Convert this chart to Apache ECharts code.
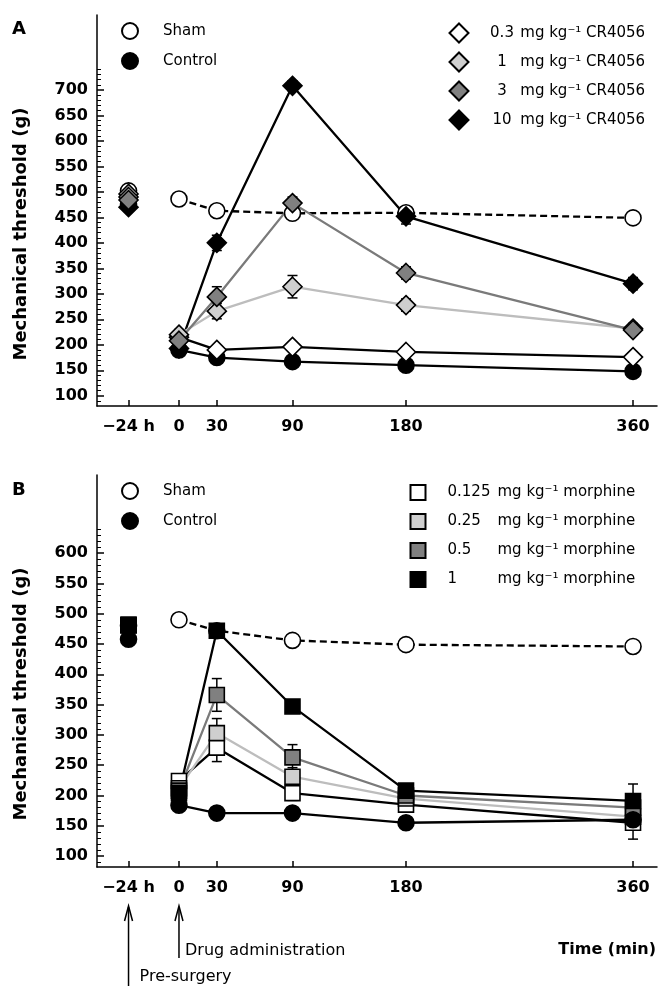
<!DOCTYPE html>
<html><head><meta charset="utf-8">
<script src="https://cdn.jsdelivr.net/npm/echarts@6/dist/echarts.min.js"></script>
<style>html,body{margin:0;padding:0;background:#fff}#c{width:670px;height:998px}</style>
</head><body><div id="c"></div>
<script>
const FONT = '"DejaVu Sans", sans-serif';

// time points (min); the pre-surgery "-24 h" reading is plotted at x = -40
const times = [-40, 0, 30, 90, 180, 360];
const xTickValues = [-40, 0, 30, 90, 180, 360];
const xTickLabels = ['\u221224 h', '0', '30', '90', '180', '360'];
const yTicksA = [100, 150, 200, 250, 300, 350, 400, 450, 500, 550, 600, 650, 700];
const yTicksB = [100, 150, 200, 250, 300, 350, 400, 450, 500, 550, 600];

// Panel A (CR4056)   [-24h, 0, 30, 90, 180, 360]
const aSham    = [502, 486, 463, 458, 459, 449];
const aControl = [476, 190, 175, 167, 160, 148];
const aCR03    = [496, 215, 190, 196, 186, 176];
const aCR1     = [490, 220, 266, 314, 278, 232];
const aCR3     = [484, 208, 294, 478, 341, 229];
const aCR10    = [470, 193, 400, 708, 452, 320];
const aShamSem    = [8, 8, 8, 10, 10, 8];
const aControlSem = [8, 8, 6, 6, 6, 6];
const aCR03Sem    = [8, 8, 8, 8, 8, 8];
const aCR1Sem     = [8, 10, 15, 22, 12, 10];
const aCR3Sem     = [8, 12, 20, 12, 12, 10];
const aCR10Sem    = [8, 10, 15, 10, 15, 12];

// Panel B (morphine)
const bSham     = [480, 490, 472, 456, 449, 446];
const bControl  = [458, 184, 171, 171, 155, 160];
const bMor0125  = [481, 224, 279, 204, 185, 155];
const bMor025   = [481, 212, 303, 231, 195, 165];
const bMor05    = [481, 208, 366, 263, 200, 180];
const bMor1     = [482, 204, 472, 347, 208, 191];
const bShamSem    = [8, 8, 8, 8, 8, 8];
const bControlSem = [6, 6, 6, 6, 6, 6];
const bMor0125Sem = [8, 10, 23, 12, 10, 27];
const bMor025Sem  = [8, 10, 24, 15, 10, 15];
const bMor05Sem   = [8, 10, 27, 21, 10, 15];
const bMor1Sem    = [8, 10, 10, 10, 10, 28];

const legendNamesA = {'CR 0.3': '0.3', 'CR 1': '1', 'CR 3': '3', 'CR 10': '10'};
const legendNamesB = {'Mor 0.125': '0.125', 'Mor 0.25': '0.25', 'Mor 0.5': '0.5', 'Mor 1': '1'};

function minorTicks(lo, hi) {
  const out = [];
  for (let v = lo; v <= hi; v += 10) if (v % 50 !== 0) out.push(v);
  return out;
}

function lineData(vals) {
  const d = [[times[0], vals[0]], [(times[0] + times[1]) / 2, '-']];
  for (let i = 1; i < vals.length; i++) d.push([times[i], vals[i]]);
  return d;
}

function mkLine(name, vals, g, symbol, size, fill, lineColor, dashed) {
  return {
    type: 'line', name: name, xAxisIndex: g, yAxisIndex: g * 2,
    data: lineData(vals), symbol: symbol, symbolSize: size,
    connectNulls: false, animation: false,
    itemStyle: {color: fill, borderColor: '#000', borderWidth: 1.6, opacity: 1},
    lineStyle: {color: lineColor, width: 2.3, type: dashed ? [7, 4] : 'solid'},
    emphasis: {disabled: true}
  };
}

function mkErr(vals, sem, g) {
  return {
    type: 'custom', xAxisIndex: g, yAxisIndex: g * 2, silent: true, animation: false,
    data: vals.map((v, i) => [times[i], v - sem[i], v + sem[i]]),
    renderItem: function (params, api) {
      const x = api.value(0);
      const pHi = api.coord([x, api.value(2)]);
      const pLo = api.coord([x, api.value(1)]);
      const cw = 5;
      const st = {stroke: '#000', lineWidth: 1.5};
      return {type: 'group', children: [
        {type: 'line', shape: {x1: pHi[0], y1: pHi[1], x2: pLo[0], y2: pLo[1]}, style: st},
        {type: 'line', shape: {x1: pHi[0] - cw, y1: pHi[1], x2: pHi[0] + cw, y2: pHi[1]}, style: st},
        {type: 'line', shape: {x1: pLo[0] - cw, y1: pLo[1], x2: pLo[0] + cw, y2: pLo[1]}, style: st}
      ]};
    }
  };
}

function yAxesFor(g, min, max, majors, minors) {
  return [
    {gridIndex: g, type: 'value', min: min, max: max, position: 'left',
     axisLine: {show: true, onZero: false, lineStyle: {color: '#000', width: 1.5}},
     axisTick: {show: true, inside: true, length: 4, customValues: minors, lineStyle: {color: '#000', width: 1}},
     axisLabel: {show: false}, splitLine: {show: false}},
    {gridIndex: g, type: 'value', min: min, max: max, position: 'left',
     axisLine: {show: false, onZero: false},
     axisTick: {show: true, inside: true, length: 7, customValues: majors, lineStyle: {color: '#000', width: 1.5}},
     axisLabel: {show: true, customValues: majors, margin: 9, color: '#000', fontFamily: FONT, fontWeight: 'bold', fontSize: 16},
     splitLine: {show: false}}
  ];
}

function xAxisFor(g) {
  return {
    gridIndex: g, type: 'value', min: -65, max: 379,
    axisLine: {onZero: false, lineStyle: {color: '#000', width: 1.5}},
    axisTick: {show: true, inside: true, length: 6, customValues: xTickValues, lineStyle: {color: '#000', width: 1.5}},
    axisLabel: {customValues: xTickValues, margin: 13, color: '#000', fontFamily: FONT, fontWeight: 'bold', fontSize: 16,
      formatter: v => { const i = xTickValues.indexOf(v); return i >= 0 ? xTickLabels[i] : ''; }},
    splitLine: {show: false}
  };
}

const legendText = {color: '#000', fontFamily: FONT, fontSize: 15, lineHeight: 16};

const option = {
  animation: false,
  backgroundColor: '#fff',
  grid: [
    {left: 97, top: 15, width: 560, height: 391, outerBoundsMode: 'none'},
    {left: 97, top: 475, width: 560, height: 392, outerBoundsMode: 'none'}
  ],
  xAxis: [xAxisFor(0), xAxisFor(1)],
  yAxis: [].concat(yAxesFor(0, 80, 847, yTicksA, minorTicks(90, 740)),
                   yAxesFor(1, 82, 729, yTicksB, minorTicks(90, 650))),
  legend: [
    {orient: 'vertical', left: 121, top: 22, padding: 0, itemWidth: 16, itemHeight: 16, itemGap: 12, selectedMode: false,
     data: [{name: 'Sham', icon: 'circle'}, {name: 'Control', icon: 'circle'}],
     formatter: n => '{g| }' + n,
     textStyle: Object.assign({}, legendText, {rich: {g: {width: 20}}})},
    {orient: 'vertical', left: 448.5, top: 22.5, padding: 0, itemWidth: 19, itemHeight: 19, itemGap: 8, selectedMode: false,
     data: ['CR 0.3', 'CR 1', 'CR 3', 'CR 10'].map(n => ({name: n, icon: 'diamond'})),
     formatter: n => '{g| }{n|' + legendNamesA[n] + '} mg kg\u207B\u00B9 CR4056',
     textStyle: Object.assign({}, legendText, {rich: {g: {width: 15}, n: {width: 27, align: 'center', fontSize: 15, fontFamily: FONT, color: '#000'}}})},
    {orient: 'vertical', left: 121, top: 482, padding: 0, itemWidth: 16, itemHeight: 16, itemGap: 12, selectedMode: false,
     data: [{name: 'Sham', icon: 'circle'}, {name: 'Control', icon: 'circle'}],
     formatter: n => '{g| }' + n,
     textStyle: Object.assign({}, legendText, {rich: {g: {width: 20}}})},
    {orient: 'vertical', left: 409.5, top: 484, padding: 0, itemWidth: 15, itemHeight: 15, itemGap: 12, selectedMode: false,
     data: ['Mor 0.125', 'Mor 0.25', 'Mor 0.5', 'Mor 1'].map(n => ({name: n, icon: 'rect'})),
     formatter: n => '{g| }{n|' + legendNamesB[n] + '}mg kg\u207B\u00B9 morphine',
     textStyle: Object.assign({}, legendText, {rich: {g: {width: 17}, n: {width: 50, align: 'left', fontSize: 15, fontFamily: FONT, color: '#000'}}})}
  ],
  series: [
    // error bars (panel A)
    mkErr(aSham, aShamSem, 0), mkErr(aControl, aControlSem, 0), mkErr(aCR10, aCR10Sem, 0),
    mkErr(aCR03, aCR03Sem, 0), mkErr(aCR1, aCR1Sem, 0), mkErr(aCR3, aCR3Sem, 0),
    // error bars (panel B)
    mkErr(bSham, bShamSem, 1), mkErr(bControl, bControlSem, 1), mkErr(bMor0125, bMor0125Sem, 1),
    mkErr(bMor025, bMor025Sem, 1), mkErr(bMor05, bMor05Sem, 1), mkErr(bMor1, bMor1Sem, 1),
    // panel A lines
    mkLine('Sham', aSham, 0, 'circle', 16, '#fff', '#000', true),
    mkLine('Control', aControl, 0, 'circle', 16, '#000', '#000', false),
    mkLine('CR 10', aCR10, 0, 'diamond', 19, '#000', '#000', false),
    mkLine('CR 0.3', aCR03, 0, 'diamond', 19, '#fff', '#000', false),
    mkLine('CR 1', aCR1, 0, 'diamond', 19, '#cfcfcf', '#bdbdbd', false),
    mkLine('CR 3', aCR3, 0, 'diamond', 19, '#808080', '#7a7a7a', false),
    // panel B lines
    mkLine('Sham', bSham, 1, 'circle', 16, '#fff', '#000', true),
    mkLine('Mor 0.125', bMor0125, 1, 'rect', 15, '#fff', '#000', false),
    mkLine('Mor 0.25', bMor025, 1, 'rect', 15, '#cfcfcf', '#bdbdbd', false),
    mkLine('Mor 0.5', bMor05, 1, 'rect', 15, '#808080', '#7a7a7a', false),
    mkLine('Control', bControl, 1, 'circle', 16, '#000', '#000', false),
    mkLine('Mor 1', bMor1, 1, 'rect', 15, '#000', '#000', false)
  ]
};

const chart = echarts.init(document.getElementById('c'), null, {renderer: 'canvas'});
chart.setOption(option);

// annotations tied to the x scale of panel B
const xPre = chart.convertToPixel({xAxisIndex: 1}, times[0]);
const xZero = chart.convertToPixel({xAxisIndex: 1}, times[1]);
const st = {stroke: '#000', lineWidth: 1.5, fill: null};
function arrow(x, yBottom) {
  return [
    {type: 'line', shape: {x1: x, y1: yBottom, x2: x, y2: 907}, style: st},
    {type: 'polyline', shape: {points: [[x - 4, 921], [x, 906], [x + 4, 921]]}, style: st}
  ];
}
const txt = (t, x, y, font, align, rot) => ({type: 'text', x: x, y: y, rotation: rot || 0,
  style: {text: t, x: 0, y: 0, font: font, fill: '#000', align: align || 'left', verticalAlign: 'middle'}});

chart.setOption({
  graphic: [].concat(
    arrow(xPre, 986), arrow(xZero, 958),
    [
      txt('Drug administration', xZero + 6, 951, '16px ' + FONT),
      txt('Pre-surgery', xPre + 11, 977, '16px ' + FONT),
      txt('Time (min)', 656, 950, 'bold 16px ' + FONT, 'right'),
      txt('A', 12, 29, 'bold 18px ' + FONT),
      txt('B', 12, 490, 'bold 18px ' + FONT),
      txt('Mechanical threshold (g)', 21, 234, 'bold 18px ' + FONT, 'center', Math.PI / 2),
      txt('Mechanical threshold (g)', 21, 694, 'bold 18px ' + FONT, 'center', Math.PI / 2)
    ]
  )
});
</script>
</body></html>
